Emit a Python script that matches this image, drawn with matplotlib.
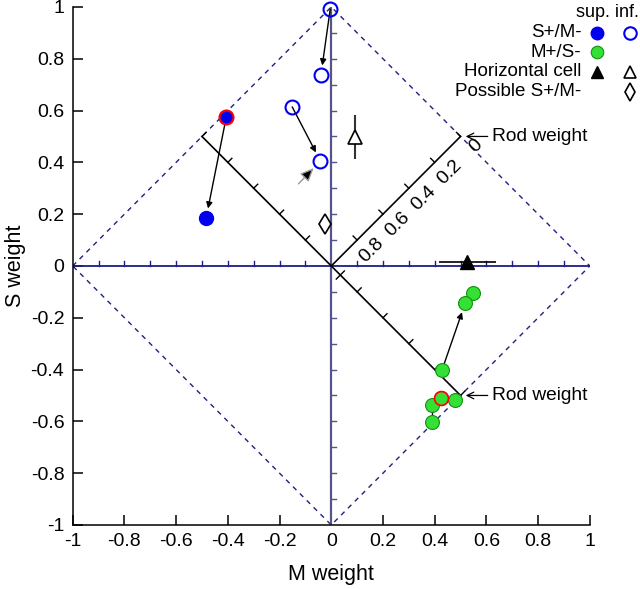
import numpy as np
import matplotlib.pyplot as plt
from matplotlib.ticker import FixedLocator, FixedFormatter

plt.rcParams['font.family'] = ['Liberation Sans', 'DejaVu Sans']

# S+/M- superior (filled blue); first point is the red-edged start
sup_s_x = [-0.406, -0.484]
sup_s_y = [0.575, 0.185]
# S+/M- inferior (open blue)
inf_s_x = [-0.004, -0.040, -0.151, -0.042]
inf_s_y = [0.992, 0.737, 0.614, 0.405]
# M+/S- superior (green)
mp_x = [0.549, 0.518, 0.429, 0.426, 0.480, 0.391, 0.391]
mp_y = [-0.104, -0.143, -0.400, -0.510, -0.517, -0.537, -0.602]
mp_red = [3]
# horizontal cells
hc_sup = (0.526, 0.015, 0.11)   # x, y, x-error
hc_inf = (0.093, 0.498, 0.085)  # x, y, y-error
# possible S+/M-
poss_x = [-0.023]
poss_y = [0.162]

# arrows (start index, end index)
inf_arrows = [(0, 1), (2, 3)]
mp_arrows = [(2, 1)]
mp_links = [(3, 4), (5, 6)]

ticks = [-1, -0.8, -0.6, -0.4, -0.2, 0, 0.2, 0.4, 0.6, 0.8, 1]
tick_labels = ['-1', '-0.8', '-0.6', '-0.4', '-0.2', '0', '0.2', '0.4', '0.6', '0.8', '1']
rod_labels = ['0', '0.2', '0.4', '0.6', '0.8']

fig = plt.figure(figsize=(6.4, 5.89), dpi=100)
ax = fig.add_axes([0.1136, 0.1087, 0.808, 0.8795])
ax.set_xlim(-1, 1)
ax.set_ylim(-1, 1)
for s in ['top', 'right']:
    ax.spines[s].set_visible(False)
for s in ['left', 'bottom']:
    ax.spines[s].set_linewidth(1.1)
ax.xaxis.set_major_locator(FixedLocator(ticks))
ax.xaxis.set_major_formatter(FixedFormatter(tick_labels))
ax.yaxis.set_major_locator(FixedLocator(ticks))
ax.yaxis.set_major_formatter(FixedFormatter(tick_labels))
ax.tick_params(direction='in', length=7, width=1.1, labelsize=14, pad=6)
ax.set_xlabel('M weight', fontsize=15.5, labelpad=10)
ax.set_ylabel('S weight', fontsize=15.5, labelpad=3)

# dashed diamond boundary
ax.plot([-1, 0, 1, 0, -1], [0, 1, 0, -1, 0], ls=(0, (3.5, 3.5)), color='#202080', lw=1, zorder=1)

# zero axes with minor ticks
ax.plot([-1, 1], [0, 0], color='#1c1c8a', lw=1.3, zorder=2)
ax.plot([0, 0], [-1, 1], color='#55558c', lw=1.6, zorder=2)
tl = 0.02
for t in np.arange(-0.9, 0.95, 0.1):
    if abs(t) < 1e-6:
        continue
    ax.plot([t, t], [0, tl], color='#1c1c8a', lw=1, zorder=2)
    ax.plot([0, tl], [t, t], color='#55558c', lw=1, zorder=2)

# rod weight axes
ax.plot([0, 0.5], [0, 0.5], color='k', lw=1.2, zorder=2)
ax.plot([-0.5, 0.5], [0.5, -0.5], color='k', lw=1.2, zorder=2)
r = 0.022 / np.sqrt(2)
for i, lab in enumerate(rod_labels):
    p = 0.5 - 0.1 * i
    ax.plot([p, p - r], [p, p + r], color='k', lw=1, zorder=2)
    ax.text(p + 0.058, p - 0.038, lab, rotation=45, ha='center', va='center', fontsize=14)
for p in [-0.5, -0.4, -0.3, -0.2, -0.1, 0.1, 0.2, 0.3, 0.4, 0.5]:
    ax.plot([p, p + r], [-p, -p + r], color='k', lw=1, zorder=2)
ax.plot([0.035 - r, 0.035 + r], [-0.035 - r, -0.035 + r], color='k', lw=1, zorder=2)

arr = dict(arrowprops=dict(arrowstyle='-|>', color='k', lw=1, shrinkA=0, shrinkB=7, mutation_scale=9))
ax.annotate('', xy=(sup_s_x[1], sup_s_y[1]), xytext=(sup_s_x[0], sup_s_y[0]), zorder=3, **arr)
for a, b in inf_arrows:
    ax.annotate('', xy=(inf_s_x[b], inf_s_y[b]), xytext=(inf_s_x[a], inf_s_y[a]), zorder=3, **arr)
for a, b in mp_arrows:
    ax.annotate('', xy=(mp_x[b], mp_y[b]), xytext=(mp_x[a], mp_y[a]), zorder=3, **arr)
for a, b in mp_links:
    ax.plot([mp_x[a], mp_x[b]], [mp_y[a], mp_y[b]], color='k', lw=1, zorder=3)
# grey arrow pointing at the last open circle
ax.annotate('', xy=(inf_s_x[3], inf_s_y[3]), xytext=(inf_s_x[3] - 0.085, inf_s_y[3] - 0.088),
            arrowprops=dict(arrowstyle='-|>,head_length=0.5,head_width=0.22', color='#999999', fc='k',
                            ec='#999999', lw=1, shrinkA=0, shrinkB=7, mutation_scale=16), zorder=3)

# error bars
ax.errorbar(hc_sup[0], hc_sup[1], xerr=hc_sup[2], fmt='none', ecolor='k', elinewidth=1.2, capsize=0, zorder=3)
ax.errorbar(hc_inf[0], hc_inf[1], yerr=hc_inf[2], fmt='none', ecolor='#333333', elinewidth=1.5, capsize=0, zorder=3)

blue = '#0000ee'
green = '#33e033'
ax.plot(sup_s_x, sup_s_y, 'o', ms=10, mfc=blue, mec=blue, ls='none', zorder=4)
ax.plot(sup_s_x[0], sup_s_y[0], 'o', ms=10, mfc=blue, mec='red', mew=1.5, zorder=5)
ax.plot(inf_s_x, inf_s_y, 'o', ms=10, mfc='none', mec=blue, mew=1.5, ls='none', zorder=4, clip_on=False)
ax.plot(mp_x, mp_y, 'o', ms=10, mfc=green, mec='#159015', mew=0.8, ls='none', zorder=4)
for i in mp_red:
    ax.plot(mp_x[i], mp_y[i], 'o', ms=10, mfc=green, mec='red', mew=1.2, zorder=5)
ax.plot(hc_sup[0], hc_sup[1], '^', ms=10, color='k', zorder=4)
ax.plot(hc_inf[0], hc_inf[1], '^', ms=10, mfc='white', mec='k', mew=1.2, zorder=4)
ax.plot(poss_x, poss_y, 'd', ms=10, mfc='white', mec='k', mew=1.2, ls='none', zorder=4)

# rod weight labels
for xy in [(0.5, 0.5), (0.5, -0.5)]:
    ax.annotate('', xy=(xy[0] + 0.02, xy[1]), xytext=(xy[0] + 0.105, xy[1]),
                arrowprops=dict(arrowstyle='->', color='k', lw=0.9, mutation_scale=12, shrinkA=0, shrinkB=0))
    ax.text(xy[0] + 0.12, xy[1], 'Rod weight', fontsize=13.8, ha='left', va='center')

# legend
ax.text(0.945, 0.977, 'sup. inf.', fontsize=13, ha='left', va='center', clip_on=False)
rows_y = [0.900, 0.826, 0.749, 0.672]
row_labels = ['S+/M-', 'M+/S-', 'Horizontal cell', 'Possible S+/M-']
for y, lab in zip(rows_y, row_labels):
    ax.text(0.967, y, lab, fontsize=13.5, ha='right', va='center', clip_on=False)
cs, ci = 1.029, 1.157
ax.plot(cs, rows_y[0], 'o', ms=9, color=blue, clip_on=False)
ax.plot(ci, rows_y[0], 'o', ms=9, mfc='none', mec=blue, mew=1.5, clip_on=False)
ax.plot(cs, rows_y[1], 'o', ms=9, mfc=green, mec='#159015', mew=0.8, clip_on=False)
ax.plot(cs, rows_y[2], '^', ms=9, color='k', clip_on=False)
ax.plot(ci, rows_y[2], '^', ms=9, mfc='white', mec='k', mew=1.2, clip_on=False)
ax.plot(ci, rows_y[3], 'd', ms=9, mfc='white', mec='k', mew=1.2, clip_on=False)

fig.savefig('out.png', dpi=100)
